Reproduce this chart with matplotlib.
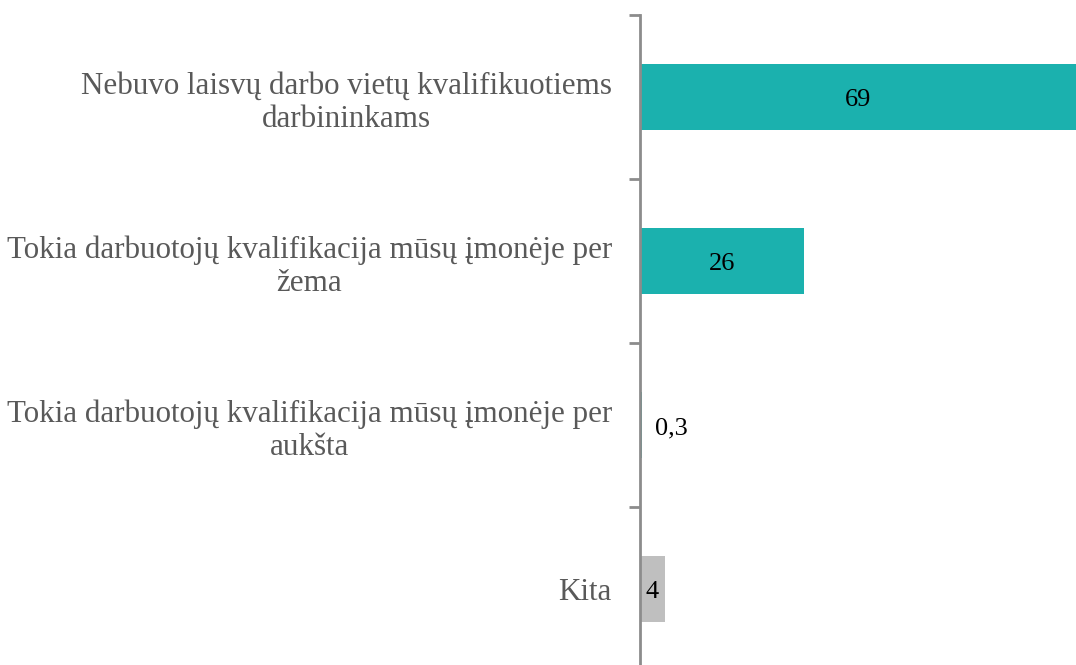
import matplotlib.pyplot as plt
import numpy as np

categories = [
    "Nebuvo laisvų darbo vietų kvalifikuotiems\ndarbininkams",
    "Tokia darbuotojų kvalifikacija mūsų įmonėje per\nžema",
    "Tokia darbuotojų kvalifikacija mūsų įmonėje per\naukšta",
    "Kita",
]
values = [69, 26, 0.3, 4]
value_labels = ["69", "26", "0,3", "4"]
bar_colors = ["#1BB1AE", "#1BB1AE", "#1BB1AE", "#BFBFBF"]

plt.rcParams["font.family"] = ["Liberation Serif", "DejaVu Serif"]

fig = plt.figure(figsize=(10.76, 6.65), dpi=100)
ax = fig.add_axes([0.5945, -0.009, 0.4055, 0.9864])

y = np.arange(len(categories))
ax.barh(y, values, height=0.40, color=bar_colors)

for yi, v, lab in zip(y, values, value_labels):
    if v < 1:
        ax.text(v + 2.2, yi + 0.02, lab, ha="left", va="center", fontsize=19, color="black")
    else:
        ax.text(v / 2, yi + 0.02, lab, ha="center", va="center", fontsize=19, color="black")

ax.set_xlim(0, 69)
ax.set_ylim(len(categories) - 0.5, -0.5)

# boundary ticks (marks) and centred labels
ax.set_yticks(np.arange(len(categories) + 1) - 0.5)
ax.set_yticklabels([])
ax.tick_params(axis="y", which="major", length=8, width=2, color="#8C8C8C")
ax.set_yticks(y, minor=True)
ax.set_yticklabels(categories, minor=True, fontsize=22.3, color="#595959",
                   multialignment="center")
ax.tick_params(axis="y", which="minor", length=0, pad=20)

ax.set_xticks([])
for side in ["top", "right", "bottom"]:
    ax.spines[side].set_visible(False)
ax.spines["left"].set_color("#8C8C8C")
ax.spines["left"].set_linewidth(2)

fig.savefig("out.png", dpi=100)
